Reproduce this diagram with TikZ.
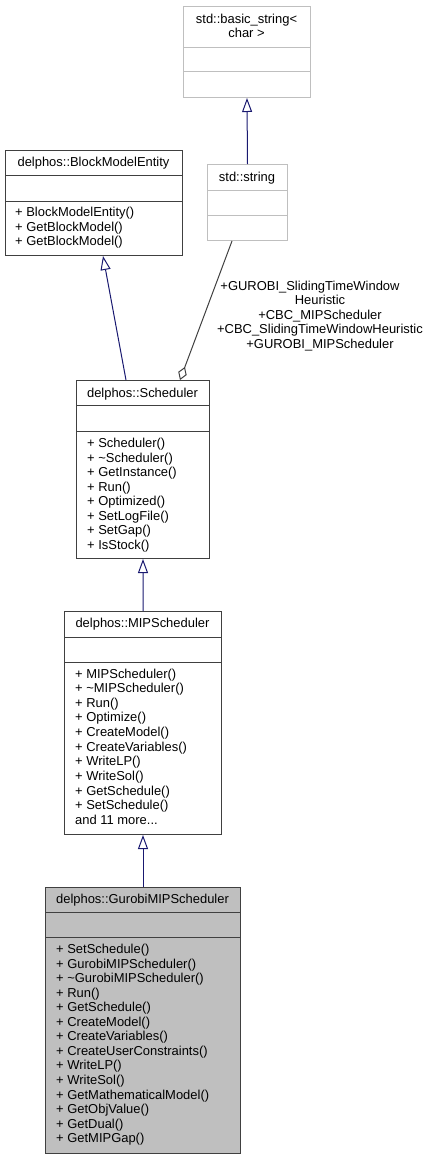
\documentclass[tikz,border=0pt]{standalone}
\usepackage{fontspec}
\setmainfont{Liberation Sans}
\usetikzlibrary{arrows.meta}
\definecolor{edgeblue}{HTML}{191970}
\definecolor{boxdark}{HTML}{404040}
\definecolor{boxgray}{HTML}{BFBFBF}
\tikzset{
  txt/.style={inner sep=0pt, font=\fontsize{13}{14.6}\selectfont},
  title/.style={txt, anchor=base},
  member/.style={txt, anchor=base west},
  classbox/.style={draw=boxdark, line width=1bp, inner sep=0pt, anchor=north west},
  extbox/.style={draw=boxgray, line width=1bp, inner sep=0pt, anchor=north west},
  divdark/.style={draw=boxdark, line width=1bp},
  divgray/.style={draw=boxgray, line width=1bp},
  inherit/.style={draw=edgeblue, line width=1bp, -{Triangle[open, length=14bp, width=10bp]}},
  aggr/.style={draw=boxdark, line width=1bp, -{Diamond[open, length=14bp, width=9bp]}},
}
\begin{document}
\begin{tikzpicture}[x=1bp, y=-1bp]
\useasboundingbox (0,0) rectangle (432,1160);

% std::basic_string<char>
\node[extbox, minimum width=127bp, minimum height=91bp] (bstr) at (183,6) {};
\draw[divgray] (bstr.west |- 0,47) -- (bstr.east |- 0,47);
\draw[divgray] (bstr.west |- 0,71) -- (bstr.east |- 0,71);
\node[title] (bstrt1) at (246.5,23.5) {std::basic\_string<};
\node[title] (bstrt2) at (246.5,37) {char >};

% std::string
\node[extbox, minimum width=80bp, minimum height=76bp] (str) at (207,164) {};
\draw[divgray] (str.west |- 0,190) -- (str.east |- 0,190);
\draw[divgray] (str.west |- 0,215) -- (str.east |- 0,215);
\node[title] (strt) at (247,181) {std::string};

% delphos::BlockModelEntity
\node[classbox, minimum width=177bp, minimum height=105bp] (bme) at (5,150) {};
\draw[divdark] (bme.west |- 0,175) -- (bme.east |- 0,175);
\draw[divdark] (bme.west |- 0,201) -- (bme.east |- 0,201);
\node[title] (bmet) at (93.5,166.5) {delphos::BlockModelEntity};
\foreach \m [count=\i from 0] in {BlockModelEntity(), GetBlockModel(), GetBlockModel()}
  \node[member] (bmem\i) at (15, 216.5+14.5*\i) {+ \m};

% delphos::Scheduler
\node[classbox, minimum width=133bp, minimum height=178bp] (sched) at (76,380) {};
\draw[divdark] (sched.west |- 0,405) -- (sched.east |- 0,405);
\draw[divdark] (sched.west |- 0,431) -- (sched.east |- 0,431);
\node[title] (schedt) at (142.5,397) {delphos::Scheduler};
\foreach \m [count=\i from 0] in {Scheduler(), \textasciitilde Scheduler(), GetInstance(), Run(), Optimized(), SetLogFile(), SetGap(), IsStock()}
  \node[member] (schedm\i) at (87, 447.5+14.55*\i) {+ \m};

% delphos::MIPScheduler
\node[classbox, minimum width=157bp, minimum height=223bp] (mip) at (64,611) {};
\draw[divdark] (mip.west |- 0,637) -- (mip.east |- 0,637);
\draw[divdark] (mip.west |- 0,662) -- (mip.east |- 0,662);
\node[title] (mipt) at (142.5,627) {delphos::MIPScheduler};
\foreach \m [count=\i from 0] in {MIPScheduler(), \textasciitilde MIPScheduler(), Run(), Optimize(), CreateModel(), CreateVariables(), WriteLP(), WriteSol(), GetSchedule(), SetSchedule()}
  \node[member] (mipm\i) at (75, 678+14.65*\i) {+ \m};
\node[member] (mipmore) at (75, 678+14.65*10) {and 11 more...};

% delphos::GurobiMIPScheduler
\node[classbox, fill=boxgray, minimum width=195bp, minimum height=266bp] (gur) at (45,887) {};
\draw[divdark] (gur.west |- 0,912) -- (gur.east |- 0,912);
\draw[divdark] (gur.west |- 0,937) -- (gur.east |- 0,937);
\node[title] (gurt) at (142.5,903.5) {delphos::GurobiMIPScheduler};
\foreach \m [count=\i from 0] in {SetSchedule(), GurobiMIPScheduler(), \textasciitilde GurobiMIPScheduler(), Run(), GetSchedule(), CreateModel(), CreateVariables(), CreateUserConstraints(), WriteLP(), WriteSol(), GetMathematicalModel(), GetObjValue(), GetDual(), GetMIPGap()}
  \node[member] (gurm\i) at (56, 953.5+14.56*\i) {+ \m};

% edges
\draw[inherit] (str.north) -- (bstr.south);
\draw[inherit] (sched.north west -| 126,0) -- (bme.south west -| 103,0);
\draw[inherit] (mip.north) -- (sched.south);
\draw[inherit] (gur.north west -| 143,0) -- (mip.south west -| 143,0);
\draw[aggr] (str.south west -| 232,0) -- (sched.north west -| 180,0);
\node[txt, align=center] (agglabel) at (320,316) {+GUROBI\_SlidingTimeWindow\hspace*{20bp}\\Heuristic\\+CBC\_MIPScheduler\\+CBC\_SlidingTimeWindowHeuristic\\+GUROBI\_MIPScheduler};
\end{tikzpicture}
\end{document}
